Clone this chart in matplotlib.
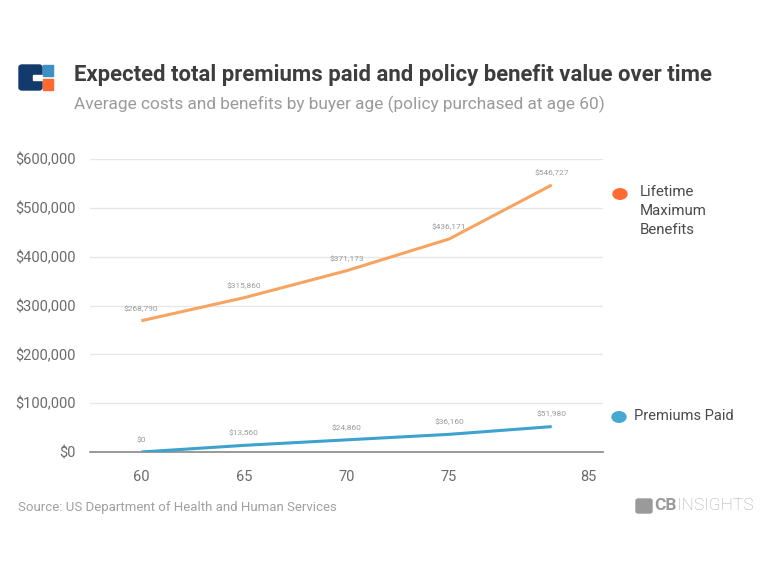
import matplotlib
matplotlib.use("Agg")
import matplotlib.pyplot as plt
from matplotlib.patches import FancyBboxPatch, Rectangle, Circle
from matplotlib.ticker import FuncFormatter

# data
ages = [60, 65, 70, 75, 85]
benefits = [268790, 315860, 371173, 436171, 546727]
premiums = [0, 13560, 24860, 36160, 51980]
series_names = ["Lifetime\nMaximum\nBenefits", "Premiums Paid"]

plt.rcParams['font.family'] = ['Roboto', 'DejaVu Sans']

W, H = 768, 576
fig = plt.figure(figsize=(W / 100, H / 100), dpi=100)
fig.patch.set_facecolor('white')

def fx(px):
    return px / W

def fy(py):
    return 1 - py / H

ax = fig.add_axes([fx(90), fy(452), fx(603) - fx(90), fy(159) - fy(452)])
pos = list(range(len(ages)))

orange_line = '#F7A461'
blue_line = '#3DA2CD'
ax.plot(pos, benefits, color=orange_line, lw=2.2, solid_capstyle='butt', zorder=3)
ax.plot(pos, premiums, color=blue_line, lw=2.2, solid_capstyle='butt', zorder=3)

for i in pos:
    ax.annotate(f"${benefits[i]:,}", (i, benefits[i]), xytext=(0, 6.5), textcoords='offset points',
                ha='center', va='bottom', fontsize=6, color='#9a9a9a')
    ax.annotate(f"${premiums[i]:,}", (i, premiums[i]), xytext=(0, 6.5), textcoords='offset points',
                ha='center', va='bottom', fontsize=6, color='#9a9a9a')

ax.set_xlim(-0.5, 4.5)
ax.set_ylim(0, 600000)
ax.set_yticks(range(0, 600001, 100000))
ax.yaxis.set_major_formatter(FuncFormatter(lambda v, p: f"${int(v):,}"))
ax.grid(axis='y', color='#e6e6e6', lw=1)
ax.set_axisbelow(True)
for s in ['top', 'right', 'left']:
    ax.spines[s].set_visible(False)
ax.spines['bottom'].set_color('#888888')
ax.spines['bottom'].set_linewidth(1.2)
ax.set_xticks([0, 1, 2, 3, 4.36])
ax.set_xticklabels([str(a) for a in ages])
ax.tick_params(axis='both', length=0, labelsize=10.5, labelcolor='#6b6b6b')
ax.tick_params(axis='x', pad=13)
ax.tick_params(axis='y', pad=10.5)

# legend
leg_colors = ['#FF6A33', '#47A8D1']
fig.patches.append(Circle((fx(620), fy(194)), 7 / W, transform=fig.transFigure, color=leg_colors[0]))
fig.patches.append(Circle((fx(619), fy(417)), 7 / W, transform=fig.transFigure, color=leg_colors[1]))
fig.text(fx(640), fy(185), series_names[0], ha='left', va='top', fontsize=10.8,
         color='#4a4a4a', linespacing=1.45)
fig.text(fx(634), fy(416), series_names[1], ha='left', va='center', fontsize=10.5, color='#4a4a4a')

# titles
fig.text(fx(74), fy(75), "Expected total premiums paid and policy benefit value over time",
         ha='left', va='center', fontsize=15.9, fontweight='bold', color='#3d3d3d')
fig.text(fx(74), fy(104), "Average costs and benefits by buyer age (policy purchased at age 60)",
         ha='left', va='center', fontsize=12.4, color='#9a9a9a')

# top-left logo
fig.patches.append(FancyBboxPatch((fx(19), fy(90)), fx(42) - fx(19), fy(65) - fy(90),
                                  boxstyle='round,pad=0,rounding_size=0.004',
                                  transform=fig.transFigure, color='#123A6B'))
fig.patches.append(Rectangle((fx(33), fy(80)), fx(43) - fx(33), fy(75) - fy(80),
                             transform=fig.transFigure, color='white'))
fig.patches.append(Rectangle((fx(43), fy(76)), fx(53) - fx(43), fy(65) - fy(76),
                             transform=fig.transFigure, color='#3E8FC4'))
fig.patches.append(Rectangle((fx(43), fy(90)), fx(53) - fx(43), fy(79) - fy(90),
                             transform=fig.transFigure, color='#FF6A33'))

# footer
fig.text(fx(18), fy(507), "Source: US Department of Health and Human Services",
         ha='left', va='center', fontsize=9.5, color='#a0a0a0')
fig.patches.append(FancyBboxPatch((fx(636), fy(513)), fx(652) - fx(636), fy(499) - fy(513),
                                  boxstyle='round,pad=0,rounding_size=0.003',
                                  transform=fig.transFigure, color='#9a9a9a'))
fig.text(fx(654), fy(506), "CB", ha='left', va='center', fontsize=12.5, fontweight='bold', color='#9a9a9a')
fig.text(fx(677), fy(506), "INSIGHTS", ha='left', va='center', fontsize=12.5, color='#a8a8a8',
         fontweight='light')

fig.savefig('out.png', dpi=100, facecolor='white')
